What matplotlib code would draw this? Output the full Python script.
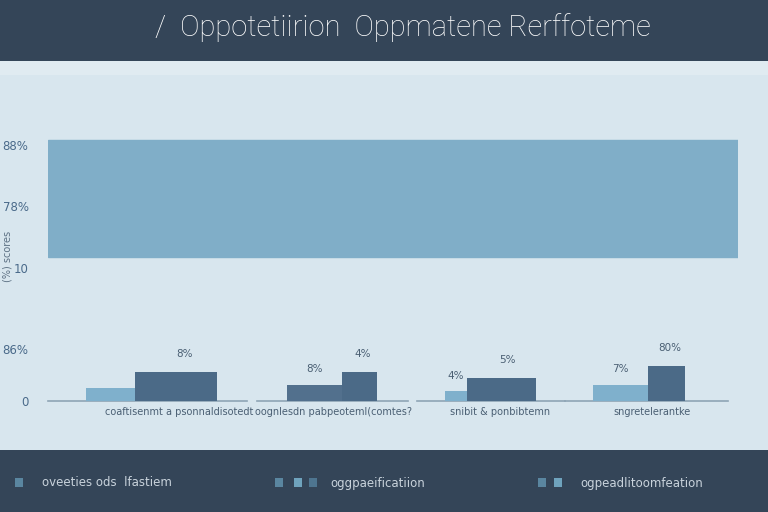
import matplotlib.pyplot as plt
from matplotlib.patches import Rectangle

# Data
title = "/  Oppotetiirion  Oppmatene Rerffoteme"
categories = ["coaftisenmt a psonnaldisotedt", "oognlesdn pabpeoteml(comtes?",
              "snibit & ponbibtemn", "sngretelerantke"]
first_values = [5.0, 6.2, 3.8, 6.2]
second_values = [11.2, 11.2, 8.8, 13.5]
first_labels = ["", "8%", "4%", "7%"]
second_labels = ["8%", "4%", "5%", "80%"]
band_range = (55.5, 100.4)
ytick_values = [0, 20, 51, 75, 98.5]
ytick_labels = ["0", "86%", "10", "78%", "88%"]
legend_labels = ["oveeties ods  lfastiem", "oggpaeificatiion", "ogpeadlitoomfeation"]

header = "#344558"
panel = "#d8e6ee"
band_color = "#80aec8"
light = "#7fb0cc"
dark = "#4b6a87"
first_colors = [light, "#52708d", light, light]
tick_color = "#4a6a8a"
# bar layout (split point inside each group and bar widths)
splits = [-0.105, 0.173, -0.056, 0.062]
first_w = [0.30, 0.34, 0.136, 0.34]
second_w = [0.51, 0.216, 0.426, 0.228]
base_lo = [-0.64, -0.35, -0.36, -0.45]
base_hi = [0.59, 0.58, 0.55, 0.56]
label_shift = [0.17, 0.12, 0.15, 0.09]

fig = plt.figure(figsize=(7.68, 5.12), dpi=100)
fig.patch.set_facecolor(panel)

# header and footer bands
fig.add_artist(Rectangle((0, 1 - 61 / 512), 1, 61 / 512, transform=fig.transFigure,
                         facecolor=header, edgecolor="none", zorder=0))
fig.add_artist(Rectangle((0, 0), 1, 62 / 512, transform=fig.transFigure,
                         facecolor=header, edgecolor="none", zorder=0))
fig.add_artist(Rectangle((0, 1 - 75 / 512), 1, 14 / 512, transform=fig.transFigure,
                         facecolor="#e0ebf1", edgecolor="none", zorder=0))
fig.text(0.525, 1 - 28 / 512, title, color="white", fontsize=21, ha="center",
         va="center", fontweight="light",
         family=["Liberation Sans Narrow", "Roboto", "DejaVu Sans"])

# main axes
ax = fig.add_axes([48 / 768, 1 - 401 / 512, 690 / 768, 301 / 512])
ax.set_facecolor("none")
ax.set_xlim(-0.64, 3.62)
ax.set_ylim(0, 115.8)
for s in ax.spines.values():
    s.set_visible(False)

ax.axhspan(band_range[0], band_range[1], color=band_color, zorder=1)

x = list(range(len(categories)))
starts = [i + s for i, s in zip(x, splits)]
b1 = ax.bar(starts, first_values, width=[-w for w in first_w], align="edge",
            color=first_colors, zorder=3)
b2 = ax.bar(starts, second_values, width=second_w, align="edge",
            color=dark, zorder=3)
for i, lo, hi in zip(x, base_lo, base_hi):
    ax.plot([i + lo, i + hi], [0, 0], color="#8ea4b5", lw=1.2,
            clip_on=False, zorder=2)

for rect, lab in zip(b1, first_labels):
    ax.text(rect.get_x() + rect.get_width() / 2, rect.get_height() + 4, lab,
            ha="center", va="bottom", fontsize=7.5, color="#4a5f73")
for rect, lab in zip(b2, second_labels):
    ax.text(rect.get_x() + rect.get_width() * 0.6, rect.get_height() + 5, lab,
            ha="center", va="bottom", fontsize=7.5, color="#4a5f73")

ax.set_yticks(ytick_values)
ax.set_yticklabels(ytick_labels, color=tick_color, fontsize=8.5)
ax.set_xticks([i + d for i, d in zip(x, label_shift)])
ax.set_xticklabels(categories, color="#4a5f73", fontsize=7)
ax.tick_params(length=0, axis="y", pad=14)
ax.tick_params(length=0, axis="x", pad=4)
fig.text(0.003, 0.5, "(%) scores", rotation=90, color="#5d7184", fontsize=7,
         ha="left", va="center")

# legend in footer
legend_y = 1 - 483 / 512
swatches = [[(15, "#5a86a0")], [(275, "#5a86a0"), (294, "#6fa3bd"), (309, "#4e7590")],
            [(538, "#5a86a0"), (554, "#6fa3bd")]]
text_x = [42, 330, 580]
for sw, tx, lab in zip(swatches, text_x, legend_labels):
    for px, c in sw:
        fig.add_artist(Rectangle((px / 768, legend_y - 4 / 512), 8 / 768, 9 / 512,
                                 transform=fig.transFigure, facecolor=c,
                                 edgecolor="none"))
    fig.text(tx / 768, legend_y, lab, color="#c9d3dc", fontsize=8.5, va="center")

fig.savefig("out.png", dpi=100, facecolor=fig.get_facecolor())
